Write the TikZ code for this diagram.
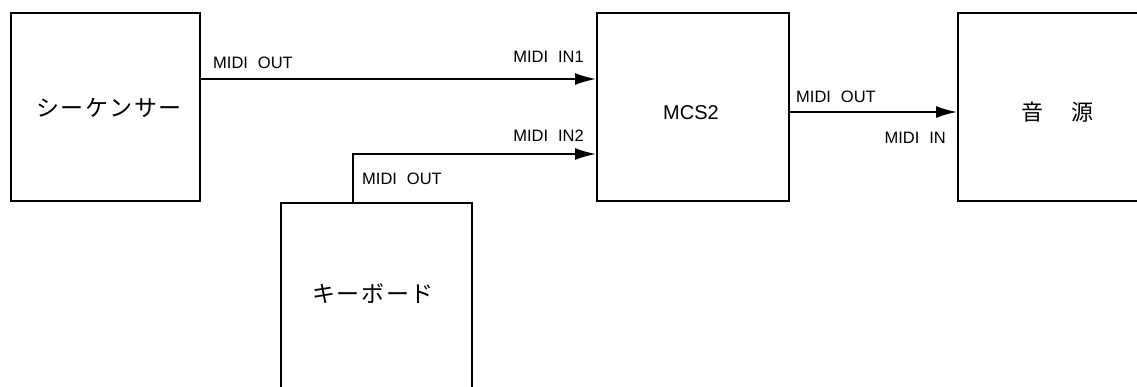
\documentclass[tikz,border=0pt]{standalone}
\usepackage{fontspec}
\setmainfont{Liberation Sans}
\newfontfamily\cjk[LetterSpace=7]{Noto Sans CJK JP}
\newfontfamily\cjkplain{Noto Sans CJK JP}
\usetikzlibrary{arrows.meta}
\newcommand{\gap}{\hspace{0.6em}}
\begin{document}
\begin{tikzpicture}[x=1pt,y=-1pt,
  blk/.style={draw=black,line width=1.6pt,minimum width=#1,anchor=north west,inner sep=0pt},
  lbl/.style={font=\fontsize{16.5}{18}\selectfont,inner sep=0pt},
  jp/.style={font=\cjk\fontsize{23}{24}\selectfont,inner sep=0pt},
  conn/.style={line width=1.8pt,-{Latex[length=21pt,width=12pt]}}]
\useasboundingbox (0,0) rectangle (1137,387);
\clip (0,0) rectangle (1137,387);
% boxes
\node[blk=189pt,minimum height=188pt] (seq) at (10,12) {};
\node[blk=192pt,minimum height=188pt] (mcs) at (596,12) {};
\node[blk=200pt,minimum height=188pt] (src) at (957,12) {};
\node[blk=191pt,minimum height=200pt] (kbd) at (280,202) {};
% texts in boxes
\node[jp] at (109,108) {シーケンサー};
\node[jp] at (373,294) {キーボード};
\node[lbl,font=\fontsize{20}{22}\selectfont,anchor=base] at (691,120) {MCS2};
\node[inner sep=0pt,font=\cjkplain\fontsize{22}{23}\selectfont] at (1057.5,112) {音\hspace{1.3em}源};
% connectors
\coordinate (o1) at (seq.east |- 0,79);
\coordinate (i1) at (mcs.west |- 0,79);
\draw[conn] (o1) -- (i1);
\coordinate (o2) at (353,202);
\coordinate (i2) at (mcs.west |- 0,154);
\draw[conn] (o2) |- (i2);
\coordinate (o3) at (mcs.east |- 0,112);
\coordinate (i3) at (src.west |- 0,112);
\draw[conn] (o3) -- (i3);
% labels
\node[lbl,anchor=base west] at (213,69) {MIDI\gap OUT};
\node[lbl,anchor=base east] at (584,63) {MIDI\gap IN1};
\node[lbl,anchor=base east] at (584,142) {MIDI\gap IN2};
\node[lbl,anchor=base west] at (362,185) {MIDI\gap OUT};
\node[lbl,anchor=base west] at (796,103) {MIDI\gap OUT};
\node[lbl,anchor=base east] at (946,144) {MIDI\gap IN};
\end{tikzpicture}
\end{document}
